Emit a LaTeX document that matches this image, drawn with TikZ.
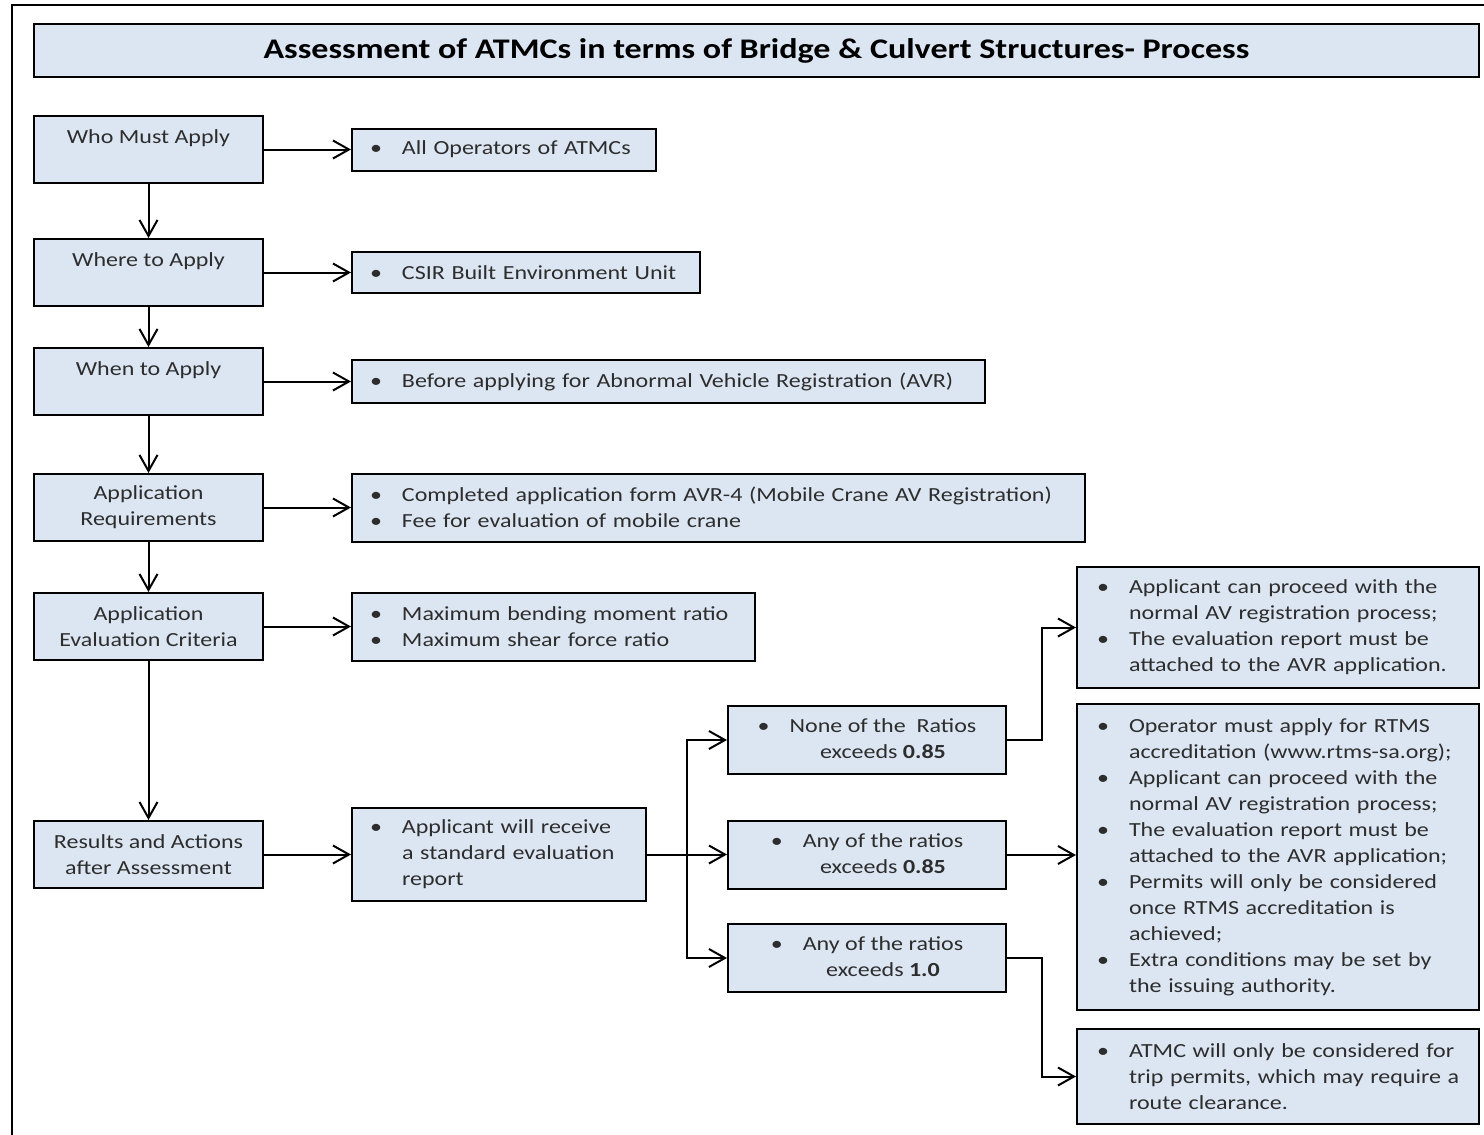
\documentclass[tikz,border=0pt]{standalone}
\usepackage{fontspec}
\setmainfont{Carlito}[FakeStretch=1.2]
\usetikzlibrary{positioning,arrows.meta,calc}

\definecolor{boxblue}{RGB}{220,230,242}
\definecolor{txtgray}{RGB}{45,45,45}
% bullet with hanging indent, and the matching indent for follow-on lines
\newcommand{\bul}{\makebox[16pt][l]{\textbullet}}
\newcommand{\ind}{\hspace*{16pt}}

\begin{document}
\begin{tikzpicture}[x=0.5pt,y=-0.5pt,
node distance=43.5pt,
box/.style={draw,line width=1pt,fill=boxblue,text=txtgray,font=\fontsize{10}{13}\selectfont},
stage/.style={box,anchor=north west,minimum width=114.5pt,minimum height=33.5pt,align=center},
info/.style={box,align=left,inner xsep=9pt,text width=#1},
ratio/.style={box,anchor=north west,minimum width=139pt,minimum height=34pt,inner sep=0pt},
result/.style={box,anchor=north west,align=left,inner xsep=10pt,text width=181pt,minimum height=#1},
>={Straight Barb[length=8pt,width=9pt]}]
\useasboundingbox (0,0) rectangle (1484,1135);
\draw[line width=0.8pt] (12,1135) -- (12,5) -- (1484,5);

\node (title) [box,anchor=north west,minimum width=722.5pt,minimum height=26.5pt,text=black,
  font=\fontsize{14.2}{18}\selectfont\bfseries] at (33,23)
  {Assessment of ATMCs in terms of Bridge \& Culvert Structures- Process};

% stages down the left
\node (who) [stage] at (33,115) {Who Must Apply\\ \mbox{}};
\node (where) [stage] at (33,238) {Where to Apply\\ \mbox{}};
\node (when) [stage] at (33,347) {When to Apply\\ \mbox{}};
\node (req) [stage] at (33,473) {Application\\Requirements};
\node (crit) [stage] at (33,592) {Application\\Evaluation Criteria};
\node (res) [stage] at (33,820) {Results and Actions\\after Assessment};

% details for each stage
\node (ops) [info={134pt},minimum height=21pt,right=of who] {\bul All Operators of ATMCs};
\node (csir) [info={156pt},minimum height=20.5pt,right=of where] {\bul CSIR Built Environment Unit};
\node (avr) [info={298.5pt},minimum height=21.5pt,right=of when] {\bul Before applying for Abnormal Vehicle Registration (AVR)};
\node (form) [info={348.5pt},minimum height=34pt,right=of req]
  {\bul Completed application form AVR-4 (Mobile Crane AV Registration)\\
   \bul Fee for evaluation of mobile crane};
\node (ratios) [info={183.5pt},minimum height=34pt,right=of crit]
  {\bul Maximum bending moment ratio\\
   \bul Maximum shear force ratio};
\node (rep) [info={129pt},minimum height=46.5pt,right=of res]
  {\bul Applicant will receive\\ \ind a standard evaluation\\ \ind report};

% outcomes
\node (none) [ratio] at (727,705)
  {\bul\begin{tabular}[t]{@{}c@{}}None of the\ \ Ratios\\exceeds \textbf{0.85}\end{tabular}};
\node (any85) [ratio] at (727,820)
  {\bul\begin{tabular}[t]{@{}c@{}}Any of the ratios\\exceeds \textbf{0.85}\end{tabular}};
\node (any1) [ratio] at (727,923)
  {\bul\begin{tabular}[t]{@{}c@{}}Any of the ratios\\exceeds \textbf{1.0}\end{tabular}};

\node (resA) [result=60.5pt] at (1076,566)
  {\bul Applicant can proceed with the\\
   \ind normal AV registration process;\\
   \bul The evaluation report must be\\
   \ind attached to the AVR application.};
\node (resB) [result=153pt] at (1076,703)
  {\bul Operator must apply for RTMS\\
   \ind \mbox{accreditation (www.rtms-sa.org);}\\
   \bul Applicant can proceed with the\\
   \ind normal AV registration process;\\
   \bul The evaluation report must be\\
   \ind attached to the AVR application;\\
   \bul Permits will only be considered\\
   \ind once RTMS accreditation is\\
   \ind achieved;\\
   \bul Extra conditions may be set by\\
   \ind the issuing authority.};
\node (resC) [result=47.5pt] at (1076,1028)
  {\bul \mbox{ATMC will only be considered for}\\
   \ind \mbox{trip permits, which may require a}\\
   \ind route clearance.};

\begin{scope}[line width=1pt]
\draw[->] (who) -- (ops);
\draw[->] (where) -- (csir);
\draw[->] (when) -- (avr);
\draw[->] (req) -- (form);
\draw[->] (crit) -- (ratios);
\draw[->] (res) -- (rep);

\draw[->] (who) -- (where);
\draw[->] (where) -- (when);
\draw[->] (when) -- (req);
\draw[->] (req) -- (crit);
\draw[->] (crit) -- (res);

\coordinate (split) at ($(rep.east)!0.5!(rep.east -| any85.west)$);
\draw[->] (rep.east) -- (rep.east -| any85.west);
\draw[->] (split) |- (none.west);
\draw[->] (split) |- (any1.west);

\coordinate (up) at ($(none.east)!0.5!(none.east -| resA.west)$);
\coordinate (down) at ($(any1.east)!0.5!(any1.east -| resC.west)$);
\draw[->] (none.east) -- (up) |- (resA.west);
\draw[->] (any85.east) -- (any85.east -| resB.west);
\draw[->] (any1.east) -- (down) |- (resC.west);
\end{scope}
\end{tikzpicture}
\end{document}
